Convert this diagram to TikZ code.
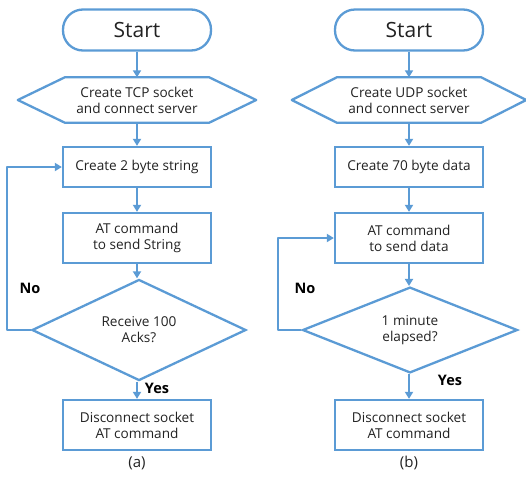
\documentclass[tikz,border=0pt]{standalone}
\usepackage{fontspec}
\setmainfont{Open Sans}
\usetikzlibrary{shapes.geometric,arrows.meta}

\definecolor{flowblue}{HTML}{5B9BD5}
\definecolor{flowtext}{HTML}{222222}

\tikzset{
    flow/.style = {draw = flowblue, line width = 2.3pt, text = flowtext, align = center, font = \fontsize{13.6}{16}\selectfont},
    terminal/.style = {flow, rounded corners = 20pt, minimum width = 148pt, minimum height = 41pt, font = \fontsize{21}{25}\selectfont},
    process/.style = {flow, minimum width = 148pt, minimum height = 40pt},
    decision/.style = {flow, diamond, minimum width = 214pt, minimum height = 81pt, inner sep = 0pt},
    prepare/.style = {text = flowtext, align = center, font = \fontsize{13.6}{16}\selectfont, minimum width = 144pt, minimum height = 45pt},
    edge/.style = {draw = flowblue, line width = 2.3pt, line join = round},
    arrow/.style = {edge, -{Triangle[width = 8pt, length = 7pt]}},
    answer/.style = {font = \bfseries\fontsize{14.5}{17}\selectfont, text = black},
    caption/.style = {font = \fontsize{15}{18}\selectfont, text = flowtext}
}

\begin{document}
\begin{tikzpicture}[x = 1pt, y = -1pt]
    \useasboundingbox (0,0) rectangle (526,483);

    \node[terminal] (starta) at (137,30) {Start};
    \node[prepare] (tcp) at (137,100) {Create TCP socket\\and connect server};
    \node[process] (str) at (137,167) {Create 2 byte string};
    \node[process, minimum height = 50pt] (senda) at (137,238) {AT command\\to send String};
    \node[decision] (acks) at (139,330) {Receive 100\\Acks?};
    \node[process, minimum height = 50pt] (closea) at (137,425) {Disconnect socket\\AT command};
    \coordinate (loopa) at (7,330);

    \node[terminal] (startb) at (409,30) {Start};
    \node[prepare] (udp) at (409,100) {Create UDP socket\\and connect server};
    \node[process] (data) at (409,167) {Create 70 byte data};
    \node[process, minimum height = 50pt] (sendb) at (409,238) {AT command\\to send data};
    \node[decision, minimum width = 215pt] (minute) at (410,330) {1 minute\\elapsed?};
    \node[process, minimum height = 50pt] (closeb) at (409,425) {Disconnect socket\\AT command};
    \coordinate (loopb) at (278,330);

    \draw[edge] (tcp.north west) -- (tcp.north east) -- ([xshift = 47pt]tcp.east) -- (tcp.south east) -- (tcp.south west) -- ([xshift = -47pt]tcp.west) -- cycle;
    \draw[edge] (udp.north west) -- (udp.north east) -- ([xshift = 45pt]udp.east) -- (udp.south east) -- (udp.south west) -- ([xshift = -45pt]udp.west) -- cycle;

    \draw[arrow] (starta) -- (tcp);
    \draw[arrow] (tcp) -- (str);
    \draw[arrow] (str) -- (senda);
    \draw[arrow] (senda) -- (senda |- acks.north);
    \draw[arrow] (senda |- acks.south) -- (closea);
    \draw[arrow] (acks.west) -- (loopa) |- (str.west);

    \draw[arrow] (startb) -- (udp);
    \draw[arrow] (udp) -- (data);
    \draw[arrow] (data) -- (sendb);
    \draw[arrow] (sendb) -- (sendb |- minute.north);
    \draw[arrow] (sendb |- minute.south) -- (closeb);
    \draw[arrow] (minute.west) -- (loopb) |- (sendb.west);

    \node[answer] (noa) at (30,288) {No};
    \node[answer] (yesa) at (157,388) {Yes};
    \node[answer] (nob) at (305,288) {No};
    \node[answer] (yesb) at (450,380) {Yes};

    \node[caption] (capa) at (137,463) {(a)};
    \node[caption] (capb) at (409,463) {(b)};
\end{tikzpicture}
\end{document}
